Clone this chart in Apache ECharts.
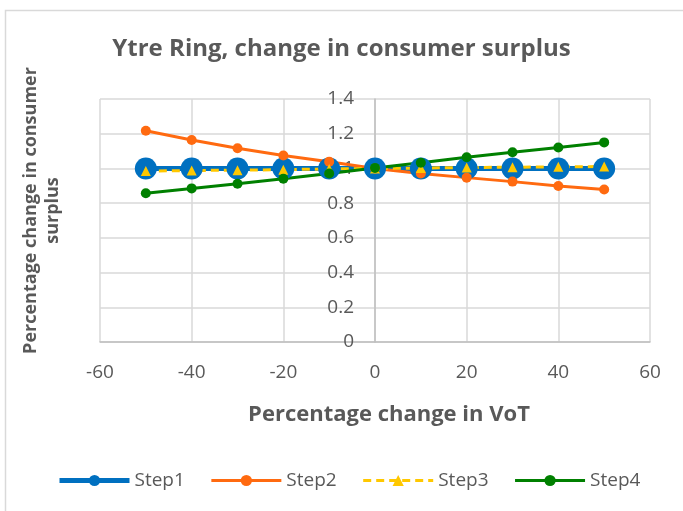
<!DOCTYPE html>
<html>
<head>
<meta charset="utf-8">
<script src="https://cdn.jsdelivr.net/npm/echarts@6/dist/echarts.min.js"></script>
<style>
html, body { margin: 0; padding: 0; background: #fff; }
#chart { width: 683px; height: 511px; }
</style>
</head>
<body>
<div id="chart"></div>
<script>
// values
var voT = [-50, -40, -30, -20, -10, 0, 10, 20, 30, 40, 50]
var step1 = [1, 1, 1, 1, 1, 1, 1, 1, 1, 1, 1]
var step2 = [1.217, 1.164, 1.116, 1.075, 1.039, 1.0, 0.971, 0.947, 0.924, 0.899, 0.879]
var step3 = [0.985, 0.988, 0.990, 0.993, 0.997, 1.0, 1.002, 1.005, 1.007, 1.009, 1.011]
var step4 = [0.857, 0.885, 0.912, 0.941, 0.971, 1.003, 1.033, 1.064, 1.093, 1.121, 1.150]

function pairs (ys) {
  return voT.map(function (x, i) { return [x, ys[i]] })
}

var fontFam = '"Open Sans", Lato, sans-serif'
var textGrey = '#595959'

var chart = echarts.init(document.getElementById('chart'))
var option = {
  animation: false,
  textStyle: { fontFamily: fontFam },
  title: {
    text: 'Ytre Ring, change in consumer surplus',
    left: 'center',
    top: 32,
    textStyle: { fontSize: 24, fontWeight: 'bold', color: textGrey, fontFamily: fontFam }
  },
  graphic: [{
    type: 'rect',
    shape: { x: 5.5, y: 10.5, width: 700, height: 520 },
    style: { fill: 'none', stroke: '#d9d9d9', lineWidth: 1.5 },
    silent: true
  }],
  grid: { left: 100, right: 33, top: 99, bottom: 169 },
  legend: {
    top: 466,
    left: 52,
    itemWidth: 70,
    itemHeight: 14,
    itemGap: 25,
    textStyle: { fontSize: 19, color: textGrey, fontFamily: fontFam },
    data: [
      { name: 'Step1', lineStyle: { width: 5 } },
      { name: 'Step2', lineStyle: { width: 3 } },
      { name: 'Step3', lineStyle: { width: 3 } },
      { name: 'Step4', lineStyle: { width: 3 } }
    ]
  },
  xAxis: {
    type: 'value',
    min: -60,
    max: 60,
    interval: 20,
    name: 'Percentage change in VoT',
    nameLocation: 'middle',
    nameGap: 62,
    nameTextStyle: { fontSize: 22, fontWeight: 'bold', color: textGrey, padding: [0, 0, 0, 28] },
    axisLine: { onZero: false, lineStyle: { color: '#bfbfbf', width: 1.5 } },
    axisTick: { show: false },
    axisLabel: { fontSize: 19, color: textGrey, margin: 21 },
    splitLine: { show: true, lineStyle: { color: '#d9d9d9', width: 1.5 } }
  },
  yAxis: [{
    // value axis drawn through x = 0
    type: 'value',
    min: 0,
    max: 1.4,
    interval: 0.2,
    offset: -275,
    axisLine: { show: true, onZero: false, lineStyle: { color: '#bfbfbf', width: 1.5 } },
    axisTick: { show: false },
    axisLabel: { fontSize: 19, color: textGrey, margin: 21 },
    splitLine: { show: true, lineStyle: { color: '#d9d9d9', width: 1.5 } }
  }, {
    type: 'value',
    position: 'left',
    min: 0,
    max: 1.4,
    name: 'Percentage change in consumer\nsurplus',
    nameLocation: 'middle',
    nameGap: 36,
    nameTextStyle: { fontSize: 18, fontWeight: 'bold', color: textGrey, lineHeight: 22, padding: [0, 0, 0, 20] },
    axisLine: { show: false, onZero: false },
    axisTick: { show: false },
    axisLabel: { show: false },
    splitLine: { show: false }
  }],
  series: [
    {
      name: 'Step1',
      type: 'line',
      data: pairs(step1),
      symbol: 'circle',
      symbolSize: 22,
      itemStyle: { color: '#0070c0' },
      lineStyle: { width: 5, color: '#0070c0' }
    },
    {
      name: 'Step2',
      type: 'line',
      data: pairs(step2),
      symbol: 'circle',
      symbolSize: 10,
      itemStyle: { color: '#ff6a10' },
      lineStyle: { width: 3, color: '#ff6a10' }
    },
    {
      name: 'Step3',
      type: 'line',
      data: pairs(step3),
      symbol: 'triangle',
      symbolSize: 10,
      itemStyle: { color: '#ffc800' },
      lineStyle: { width: 3, type: [8, 5], color: '#ffc800' }
    },
    {
      name: 'Step4',
      type: 'line',
      data: pairs(step4),
      symbol: 'circle',
      symbolSize: 10,
      itemStyle: { color: '#008000' },
      lineStyle: { width: 3, color: '#008000' }
    }
  ]
}
chart.setOption(option, true)
</script>
</body>
</html>
